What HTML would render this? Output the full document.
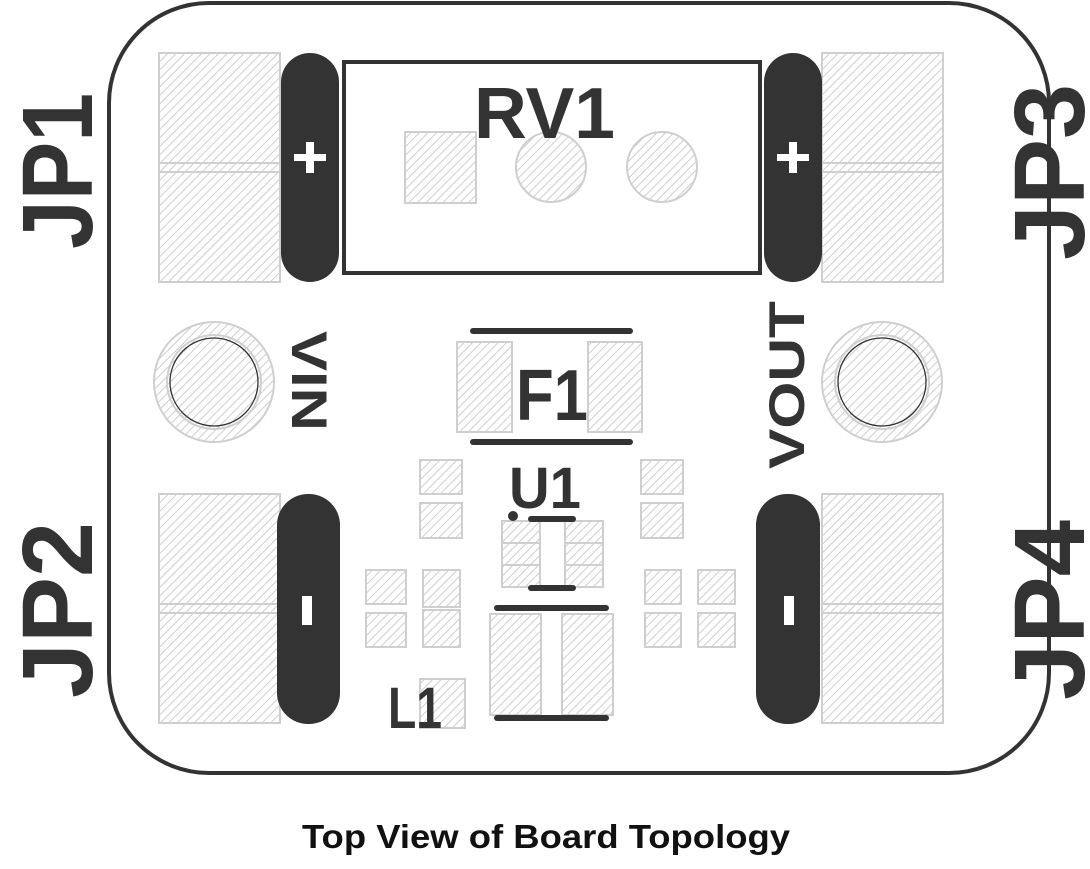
<!DOCTYPE html>
<html><head><meta charset="utf-8"><style>
html,body{margin:0;padding:0;background:#fff;width:1090px;height:869px;overflow:hidden}
svg text{font-family:"Liberation Sans",sans-serif;font-weight:bold;fill:#333}
</style></head><body>
<svg width="1090" height="869" viewBox="0 0 1090 869">
<defs>
<pattern id="h" width="6" height="6" patternUnits="userSpaceOnUse" patternTransform="rotate(45)">
<rect width="6" height="6" fill="#fff"/><line x1="0" y1="0" x2="0" y2="6" stroke="#c6c6c6" stroke-width="1.7"/>
</pattern>
</defs>
<g id="pads" fill="url(#h)" stroke="#cfcfcf" stroke-width="2">
<g><rect x="159" y="53" width="121" height="229"/><line x1="159" y1="163" x2="280" y2="163"/><line x1="159" y1="172" x2="280" y2="172"/></g>
<g><rect x="822" y="53" width="121" height="229"/><line x1="822" y1="163" x2="943" y2="163"/><line x1="822" y1="172" x2="943" y2="172"/></g>
<g><rect x="159" y="494" width="121" height="229"/><line x1="159" y1="604" x2="280" y2="604"/><line x1="159" y1="613" x2="280" y2="613"/></g>
<g><rect x="822" y="494" width="121" height="229"/><line x1="822" y1="604" x2="943" y2="604"/><line x1="822" y1="613" x2="943" y2="613"/></g>
<rect x="405" y="132" width="71" height="71"/>
<circle cx="551" cy="167" r="35"/>
<circle cx="662" cy="167" r="35"/>
<circle cx="214" cy="382" r="60"/>
<circle cx="882" cy="382" r="60"/>
<rect x="457" y="342" width="55" height="90"/>
<rect x="588" y="342" width="54" height="90"/>
<rect x="420" y="460" width="42" height="34"/>
<rect x="420" y="503" width="42" height="35"/>
<rect x="641" y="460" width="42" height="34"/>
<rect x="641" y="503" width="42" height="35"/>
<rect x="366" y="570" width="40" height="34"/>
<rect x="366" y="613" width="40" height="34"/>
<rect x="423" y="570" width="37" height="37"/>
<rect x="423" y="610" width="37" height="37"/>
<rect x="645" y="570" width="36" height="34"/>
<rect x="645" y="613" width="36" height="34"/>
<rect x="698" y="570" width="37" height="34"/>
<rect x="698" y="613" width="37" height="34"/>
<rect x="502" y="521" width="38" height="22"/>
<rect x="502" y="543" width="38" height="22"/>
<rect x="502" y="565" width="38" height="22"/>
<rect x="565" y="521" width="38" height="22"/>
<rect x="565" y="543" width="38" height="22"/>
<rect x="565" y="565" width="38" height="22"/>
<rect x="490" y="614" width="51" height="101"/>
<rect x="562" y="614" width="51" height="101"/>
<rect x="420" y="679" width="45" height="49"/>
</g>
<circle cx="214" cy="382" r="47" fill="none" stroke="#cfcfcf" stroke-width="2"/>
<circle cx="214" cy="382" r="44" fill="none" stroke="#333" stroke-width="1.3"/>
<circle cx="882" cy="382" r="47" fill="none" stroke="#cfcfcf" stroke-width="2"/>
<circle cx="882" cy="382" r="44" fill="none" stroke="#333" stroke-width="1.3"/>
<rect x="109" y="3" width="940" height="770" rx="100" fill="none" stroke="#333" stroke-width="4"/>
<rect x="344" y="62" width="416" height="211" fill="none" stroke="#333" stroke-width="4"/>
<rect x="281" y="53" width="58" height="229" rx="29" fill="#333"/>
<rect x="764" y="53" width="58" height="229" rx="29" fill="#333"/>
<rect x="277" y="494" width="63" height="230" rx="31" fill="#333"/>
<rect x="756" y="494" width="64" height="230" rx="31" fill="#333"/>
<g fill="#fff">
<rect x="294" y="154" width="32" height="7"/><rect x="306" y="142" width="8" height="31"/>
<rect x="777" y="154" width="32" height="7"/><rect x="789" y="142" width="8" height="31"/>
<rect x="302" y="596" width="10" height="29"/><rect x="784" y="596" width="10" height="29"/>
</g>
<g stroke="#333" stroke-width="6" stroke-linecap="round">
<line x1="473" y1="331" x2="630" y2="331"/><line x1="473" y1="442" x2="630" y2="442"/>
<line x1="531" y1="519" x2="573" y2="519"/><line x1="531" y1="588" x2="573" y2="588"/>
<line x1="497" y1="608" x2="606" y2="608"/><line x1="497" y1="718" x2="606" y2="718"/>
</g>
<circle cx="513" cy="516" r="5" fill="#333"/>
<text x="474" y="138" font-size="72" textLength="141" lengthAdjust="spacingAndGlyphs">RV1</text>
<text x="516" y="420" font-size="72" textLength="72" lengthAdjust="spacingAndGlyphs">F1</text>
<text x="509" y="508" font-size="58" textLength="72" lengthAdjust="spacingAndGlyphs">U1</text>
<text x="388" y="728" font-size="58" textLength="54" lengthAdjust="spacingAndGlyphs">L1</text>
<text transform="translate(292,381) rotate(90)" font-size="50" text-anchor="middle" textLength="100" lengthAdjust="spacingAndGlyphs">VIN</text>
<text transform="translate(804,385) rotate(-90)" font-size="50" text-anchor="middle" textLength="168" lengthAdjust="spacingAndGlyphs">VOUT</text>
<text transform="translate(92,171) rotate(-90)" font-size="100" text-anchor="middle" textLength="156" lengthAdjust="spacingAndGlyphs">JP1</text>
<text transform="translate(92,610) rotate(-90)" font-size="100" text-anchor="middle" textLength="176" lengthAdjust="spacingAndGlyphs">JP2</text>
<text transform="translate(1084,172) rotate(-90)" font-size="100" text-anchor="middle" textLength="176" lengthAdjust="spacingAndGlyphs">JP3</text>
<text transform="translate(1084,610) rotate(-90)" font-size="100" text-anchor="middle" textLength="180" lengthAdjust="spacingAndGlyphs">JP4</text>
<text x="302" y="848" font-size="33" textLength="488" lengthAdjust="spacingAndGlyphs" style="fill:#111">Top View of Board Topology</text>
</svg>
</body></html>
